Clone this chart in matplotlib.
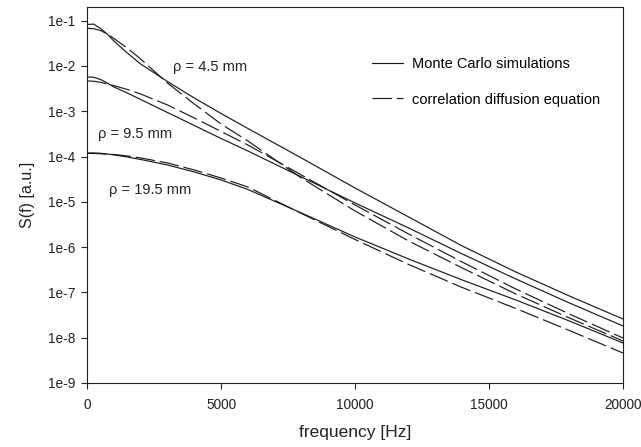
import numpy as np
import matplotlib
matplotlib.use('Agg')
from matplotlib import pyplot as plt

plt.rcParams['font.family'] = ['Liberation Sans', 'DejaVu Sans']
plt.rcParams['lines.scale_dashes'] = False

# frequency grid (Hz)
freq = [0, 250, 500, 750, 1000, 1500, 2000, 3000, 4000, 5000, 6000,
        8000, 10000, 12000, 14000, 16000, 18000, 20000]

# log10 S(f)
mc_45 = [-1.084, -1.077, -1.172, -1.294, -1.448, -1.713, -1.956, -2.343,
         -2.707, -3.049, -3.380, -4.032, -4.694, -5.334, -5.975, -6.549,
         -7.079, -7.587]
cde_45 = [-1.168, -1.179, -1.216, -1.294, -1.393, -1.603, -1.846, -2.376,
          -2.839, -3.281, -3.656, -4.473, -5.202, -5.864, -6.460, -7.035,
          -7.564, -8.072]
mc_95 = [-2.243, -2.250, -2.298, -2.376, -2.464, -2.596, -2.740, -3.027,
         -3.314, -3.601, -3.877, -4.451, -5.025, -5.577, -6.151, -6.703,
         -7.233, -7.741]
cde_95 = [-2.331, -2.338, -2.360, -2.398, -2.435, -2.519, -2.619, -2.861,
          -3.148, -3.446, -3.744, -4.407, -5.069, -5.710, -6.329, -6.925,
          -7.477, -8.007]
mc_195 = [-3.921, -3.921, -3.928, -3.943, -3.965, -4.010, -4.065, -4.186,
          -4.341, -4.517, -4.727, -5.246, -5.776, -6.262, -6.725, -7.167,
          -7.631, -8.116]
cde_195 = [-3.932, -3.932, -3.939, -3.950, -3.954, -3.987, -4.031, -4.142,
           -4.297, -4.474, -4.672, -5.257, -5.831, -6.383, -6.891, -7.355,
           -7.841, -8.338]

labels = ['\u03c1 = 4.5 mm', '\u03c1 = 9.5 mm', '\u03c1 = 19.5 mm']
label_f = [3215, 411, 822]
label_s = [9.5e-3, 3.2e-4, 1.8e-5]

yticks = [1e-9, 1e-8, 1e-7, 1e-6, 1e-5, 1e-4, 1e-3, 1e-2, 1e-1]
ytick_labels = ['1e-9', '1e-8', '1e-7', '1e-6', '1e-5', '1e-4', '1e-3', '1e-2', '1e-1']
xticks = [0, 5000, 10000, 15000, 20000]

fig = plt.figure(figsize=(6.41, 4.47), dpi=100)
ax = fig.add_axes([87/641, 64/447, 536/641, 376/447])

col = '#1a1a1a'
lw = 0.85
dash = (0, (14, 3.6))
for i, (mc, cde) in enumerate([(mc_45, cde_45), (mc_95, cde_95), (mc_195, cde_195)]):
    ax.plot(freq, 10**np.array(mc), color=col, lw=lw,
            label='Monte Carlo simulations' if i == 0 else None)
    ax.plot(freq, 10**np.array(cde), color=col, lw=lw, linestyle=dash,
            label='correlation diffusion equation' if i == 0 else None)

for txt, xf, ys in zip(labels, label_f, label_s):
    ax.text(xf, ys, txt, fontsize=10.5, ha='left', va='center', color='#222222')

ax.set_yscale('log')
ax.set_xlim(0, 20000)
ax.set_ylim(1e-9, 2.0e-1)
ax.set_yticks(yticks)
ax.set_yticklabels(ytick_labels)
ax.yaxis.set_minor_locator(matplotlib.ticker.NullLocator())
ax.set_xticks(xticks)
ax.set_xticklabels([str(v) for v in xticks])
ax.tick_params(direction='out', length=4.5, width=0.8, labelsize=9.8,
               colors='#222222')
ax.tick_params(axis='y', pad=4)
ax.tick_params(axis='x', pad=6)
for sp in ax.spines.values():
    sp.set_linewidth(0.8)
    sp.set_color('#222222')

ax.set_xlabel('frequency [Hz]', fontsize=12.5, color='#222222', labelpad=10)
ax.set_ylabel('S(f) [a.u.]', fontsize=11.5, color='#222222', labelpad=9)

ax.legend(loc='upper left', bbox_to_anchor=(0.532, 0.868), frameon=False,
          fontsize=10.5, handlelength=2.1, handletextpad=0.65,
          labelspacing=1.5, borderpad=0, borderaxespad=0)

plt.savefig('out.png', dpi=100)
